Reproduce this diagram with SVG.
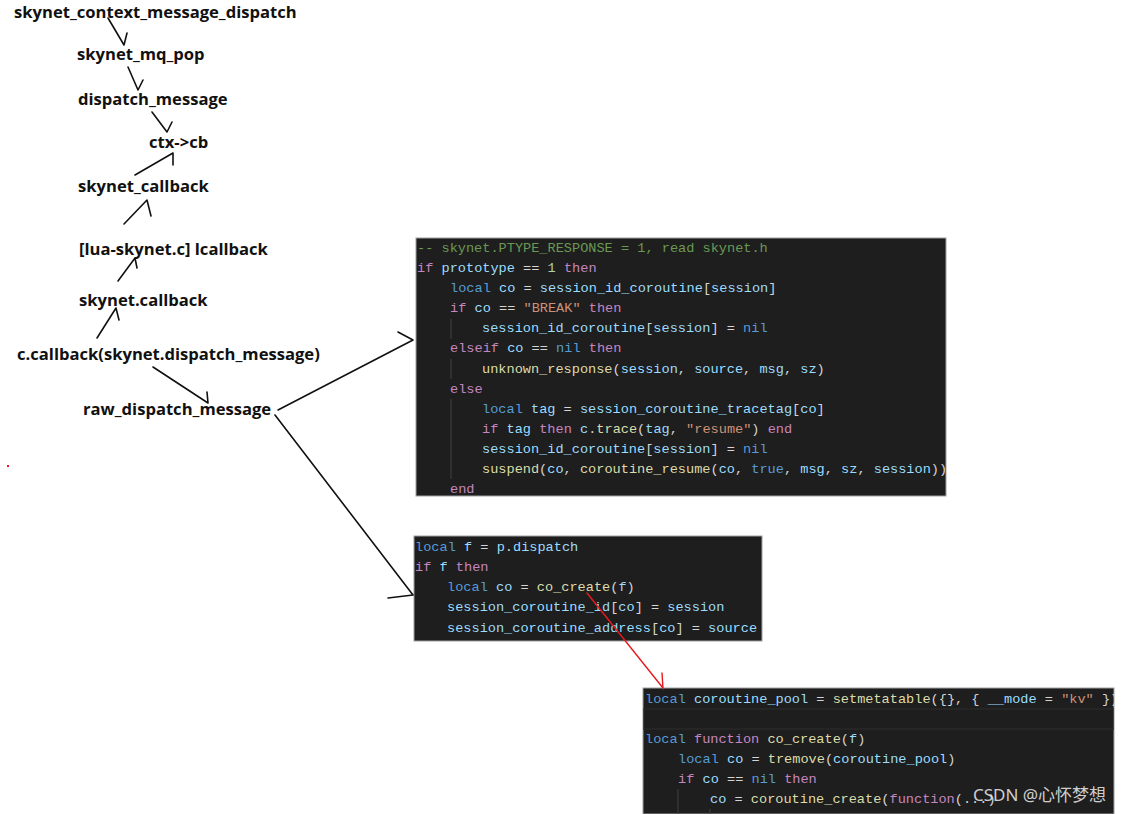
<svg xmlns="http://www.w3.org/2000/svg" width="1126" height="814" viewBox="0 0 1126 814">
<defs>
<style>
.lbl{font-family:"Open Sans","Noto Sans","Liberation Sans",sans-serif;font-weight:bold;font-size:16.6px;fill:#111}
.code{font-family:"Liberation Mono","DejaVu Sans Mono",monospace;font-size:13.6px;fill:#d4d4d4;white-space:pre}
.box{fill:#1e1e1e;stroke:#a0a0a0;stroke-width:1}
.c{fill:#6a9955}.k{fill:#c586c0}.b{fill:#569cd6}.v{fill:#9cdcfe}.f{fill:#dcdcaa}.s{fill:#ce9178}.n{fill:#b5cea8}
.guide{stroke:#404040;stroke-width:1}
.arr{fill:none;stroke:#111;stroke-width:1.6;stroke-linecap:round;stroke-linejoin:round}
.red{fill:none;stroke:#e8191c;stroke-width:1.4;stroke-linecap:round}
</style>
<clipPath id="clip3"><rect x="643" y="688" width="471" height="126"/></clipPath>
</defs>
<rect width="1126" height="814" fill="#ffffff"/>

<g id="labels">
<g id="n1"><text class="lbl" x="14" y="18">skynet_context_message_dispatch</text></g>
<g id="n2"><text class="lbl" x="77" y="60">skynet_mq_pop</text></g>
<g id="n3"><text class="lbl" x="78" y="105">dispatch_message</text></g>
<g id="n4"><text class="lbl" x="149" y="148">ctx-&gt;cb</text></g>
<g id="n5"><text class="lbl" x="78" y="192">skynet_callback</text></g>
<g id="n6"><text class="lbl" x="79" y="255">[lua-skynet.c] lcallback</text></g>
<g id="n7"><text class="lbl" x="79" y="306">skynet.callback</text></g>
<g id="n8"><text class="lbl" x="17" y="360">c.callback(skynet.dispatch_message)</text></g>
<g id="n9"><text class="lbl" x="83" y="415">raw_dispatch_message</text></g>
</g>

<g id="code1">
<rect class="box" x="416" y="238" width="530" height="258"/>
<line class="guide" x1="451" y1="319" x2="451" y2="339"/>
<line class="guide" x1="451" y1="359" x2="451" y2="379"/>
<line class="guide" x1="451" y1="399" x2="451" y2="479"/>
<text class="code" y="252"><tspan x="417" class="c">-- skynet.PTYPE_RESPONSE = 1, read skynet.h</tspan></text>
<text class="code" y="272"><tspan x="417" class="k">if</tspan> <tspan class="v">prototype</tspan> == <tspan class="n">1</tspan> <tspan class="k">then</tspan></text>
<text class="code" y="292"><tspan x="450" class="b">local</tspan> <tspan class="v">co</tspan> = <tspan class="v">session_id_coroutine</tspan>[<tspan class="v">session</tspan>]</text>
<text class="code" y="312"><tspan x="450" class="k">if</tspan> <tspan class="v">co</tspan> == <tspan class="s">"BREAK"</tspan> <tspan class="k">then</tspan></text>
<text class="code" y="332"><tspan x="482" class="v">session_id_coroutine</tspan>[<tspan class="v">session</tspan>] = <tspan class="b">nil</tspan></text>
<text class="code" y="352"><tspan x="450" class="k">elseif</tspan> <tspan class="v">co</tspan> == <tspan class="b">nil</tspan> <tspan class="k">then</tspan></text>
<text class="code" y="373"><tspan x="482" class="f">unknown_response</tspan>(<tspan class="v">session</tspan>, <tspan class="v">source</tspan>, <tspan class="v">msg</tspan>, <tspan class="v">sz</tspan>)</text>
<text class="code" y="393"><tspan x="450" class="k">else</tspan></text>
<text class="code" y="413"><tspan x="482" class="b">local</tspan> <tspan class="v">tag</tspan> = <tspan class="v">session_coroutine_tracetag</tspan>[<tspan class="v">co</tspan>]</text>
<text class="code" y="433"><tspan x="482" class="k">if</tspan> <tspan class="v">tag</tspan> <tspan class="k">then</tspan> <tspan class="v">c</tspan>.<tspan class="f">trace</tspan>(<tspan class="v">tag</tspan>, <tspan class="s">"resume"</tspan>) <tspan class="k">end</tspan></text>
<text class="code" y="453"><tspan x="482" class="v">session_id_coroutine</tspan>[<tspan class="v">session</tspan>] = <tspan class="b">nil</tspan></text>
<text class="code" y="473"><tspan x="482" class="f">suspend</tspan>(<tspan class="v">co</tspan>, <tspan class="f">coroutine_resume</tspan>(<tspan class="v">co</tspan>, <tspan class="b">true</tspan>, <tspan class="v">msg</tspan>, <tspan class="v">sz</tspan>, <tspan class="v">session</tspan>))</text>
<text class="code" y="493"><tspan x="450" class="k">end</tspan></text>
</g>

<g id="code2">
<rect class="box" x="414" y="536" width="348" height="105"/>
<text class="code" y="551"><tspan x="415" class="b">local</tspan> <tspan class="v">f</tspan> = <tspan class="v">p</tspan>.<tspan class="v">dispatch</tspan></text>
<text class="code" y="571"><tspan x="415" class="k">if</tspan> <tspan class="v">f</tspan> <tspan class="k">then</tspan></text>
<text class="code" y="591"><tspan x="447" class="b">local</tspan> <tspan class="v">co</tspan> = <tspan class="f">co_create</tspan>(<tspan class="v">f</tspan>)</text>
<text class="code" y="611"><tspan x="447" class="v">session_coroutine_id</tspan>[<tspan class="v">co</tspan>] = <tspan class="v">session</tspan></text>
<text class="code" y="632"><tspan x="447" class="v">session_coroutine_address</tspan>[<tspan class="v">co</tspan>] = <tspan class="v">source</tspan></text>
</g>

<g id="code3">
<rect x="643" y="688" width="471" height="126" fill="#1e1e1e" stroke="#a0a0a0" stroke-width="1"/>
<g clip-path="url(#clip3)">
<rect x="643" y="709" width="471" height="20" fill="none" stroke="#2c2c2c" stroke-width="1"/>
<line class="guide" x1="678" y1="789" x2="678" y2="814"/>
<line class="guide" x1="710" y1="809" x2="710" y2="814"/>
<text class="code" y="703"><tspan x="645" class="b">local</tspan> <tspan class="v">coroutine_pool</tspan> = <tspan class="f">setmetatable</tspan>({}, { <tspan class="v">__mode</tspan> = <tspan class="s">"kv"</tspan> })</text>
<text class="code" y="743"><tspan x="645" class="b">local</tspan> <tspan class="k">function</tspan> <tspan class="f">co_create</tspan>(<tspan class="v">f</tspan>)</text>
<text class="code" y="763"><tspan x="678" class="b">local</tspan> <tspan class="v">co</tspan> = <tspan class="f">tremove</tspan>(<tspan class="v">coroutine_pool</tspan>)</text>
<text class="code" y="783"><tspan x="678" class="k">if</tspan> <tspan class="v">co</tspan> == <tspan class="b">nil</tspan> <tspan class="k">then</tspan></text>
<text class="code" y="803"><tspan x="710" class="v">co</tspan> = <tspan class="f">coroutine_create</tspan>(<tspan class="k">function</tspan>(...)</text>
</g>
</g>

<g id="connectors">
<path class="arr" d="M108,18 L124,45 L127,33"/>
<path class="arr" d="M128,67 L138,90 L143,80"/>
<path class="arr" d="M152,112 L167,132 L172,122"/>
<path class="arr" d="M135,175 L173,153 L173,165"/>
<path class="arr" d="M124,224 L147,200 L151,216"/>
<path class="arr" d="M118,281 L135,258 L137,268"/>
<path class="arr" d="M97,338 L116,308 L119,320"/>
<path class="arr" d="M153,367 L208,403 L207,392"/>
<path class="arr" d="M278,410 L413,340 L398,332"/>
<path class="arr" d="M275,415 L413,595 L388,598"/>
<path class="red" d="M587,593 L663,688 L662,673"/>
</g>

<rect x="7" y="465" width="2" height="2" fill="#e8191c"/>
<text x="973" y="801" font-family="'Noto Sans','Noto Sans CJK SC',sans-serif" font-size="17" fill="#f0f0f0" fill-opacity="0.85">CSDN @心怀梦想</text>
</svg>
